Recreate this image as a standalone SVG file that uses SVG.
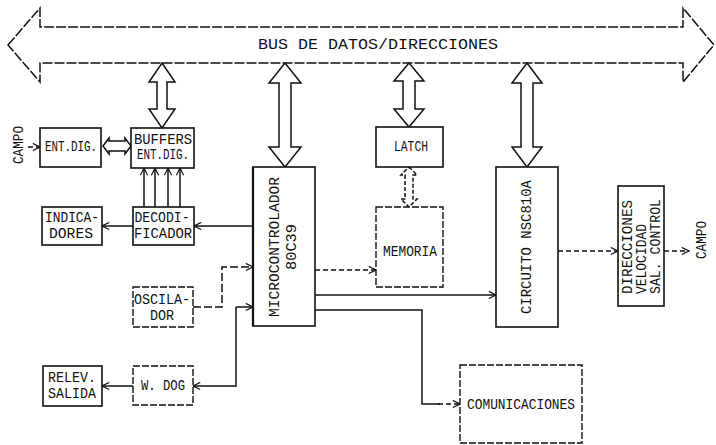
<svg xmlns="http://www.w3.org/2000/svg" width="716" height="445" viewBox="0 0 716 445">
<style>
  .bx{fill:#fff;stroke:#111;stroke-width:1.6}
  .bd{fill:#fff;stroke:#111;stroke-width:1.4;stroke-dasharray:7,2}
  .ha{fill:#fff;stroke:#111;stroke-width:1.5;stroke-linejoin:miter}
  .ln{fill:none;stroke:#111;stroke-width:1.5}
  .dl{fill:none;stroke:#111;stroke-width:1.3;stroke-dasharray:5,3}
  text{font-family:"Liberation Mono","DejaVu Sans Mono",monospace;font-size:14px;fill:#111;text-anchor:middle;dominant-baseline:central}
</style>
<defs>
  <marker id="ar" viewBox="0 0 10 10" refX="9" refY="5" markerWidth="9" markerHeight="9" markerUnits="userSpaceOnUse" orient="auto">
    <path d="M1,1 L9,5 L1,9" fill="none" stroke="#111" stroke-width="1.3"/>
  </marker>
</defs>

<g id="bus">
  <polygon class="ha" points="8,45 40,8 40,27 683,27 683,8 714,45 683,82 683,63 40,63 40,82" stroke-dasharray="10,2"/>
  <text x="378" y="45" font-size="15" textLength="240" lengthAdjust="spacingAndGlyphs">BUS DE DATOS/DIRECCIONES</text>
</g>

<g id="connectors">
  <polygon class="ha" points="162,63 175,82 167,82 167,109 175,109 162,128 149,109 157,109 157,82 149,82"/>
  <polygon class="ha" points="285,63 301,83 291,83 291,147 301,147 285,167 269,147 279,147 279,83 269,83"/>
  <polygon class="ha" points="409,63 424,81 415,81 415,109 424,109 409,127 394,109 403,109 403,81 394,81"/>
  <polygon class="ha" points="527,63 542,83 533,83 533,147 542,147 527,167 512,147 521,147 521,83 512,83"/>
  <polygon class="ha" points="409,167 417,175 413,175 413,199 417,199 409,207 401,199 405,199 405,175 401,175" stroke-dasharray="4,2"/>
  <polygon class="ha" points="103,146 109,138 109,141 125,141 125,138 131,146 125,154 125,151 109,151 109,154" stroke-width="1.3"/>
  <line class="dl" x1="28" y1="147" x2="40" y2="147" marker-end="url(#ar)"/>
  <line class="ln" x1="144" y1="207" x2="144" y2="168" marker-end="url(#ar)"/>
  <line class="ln" x1="155" y1="207" x2="155" y2="168" marker-end="url(#ar)"/>
  <line class="ln" x1="168" y1="207" x2="168" y2="168" marker-end="url(#ar)"/>
  <line class="ln" x1="180" y1="207" x2="180" y2="168" marker-end="url(#ar)"/>
  <line class="ln" x1="253" y1="226" x2="194" y2="226" marker-end="url(#ar)"/>
  <line class="ln" x1="133" y1="226" x2="102" y2="226" marker-end="url(#ar)"/>
  <polyline class="ln" points="193,307 222,307 222,267 253,267" stroke-dasharray="8,3" marker-end="url(#ar)"/>
  <polyline class="ln" points="236,307 253,307" marker-end="url(#ar)"/>
  <polyline class="ln" points="236,307 236,386 193,386" marker-end="url(#ar)"/>
  <line class="ln" x1="133" y1="386" x2="102" y2="386" marker-end="url(#ar)"/>
  <line class="dl" x1="315" y1="270" x2="376" y2="270" marker-end="url(#ar)"/>
  <line class="ln" x1="315" y1="295" x2="496" y2="295" marker-end="url(#ar)"/>
  <polyline class="ln" points="315,310 422,310 422,404 440,404"/>
  <line class="dl" x1="438" y1="404" x2="460" y2="404" marker-end="url(#ar)"/>
  <line class="dl" x1="558" y1="251" x2="618" y2="251" marker-end="url(#ar)"/>
  <line class="dl" x1="664" y1="251" x2="689" y2="251" marker-end="url(#ar)"/>
</g>

<g id="campo-left">
  <text transform="translate(19,145) rotate(-90)" font-size="14" textLength="38" lengthAdjust="spacingAndGlyphs">CAMPO</text>
</g>

<g id="ent-dig">
  <rect class="bx" x="40" y="128" width="61" height="39"/>
  <text x="71" y="147" textLength="52" lengthAdjust="spacingAndGlyphs">ENT.DIG.</text>
</g>

<g id="buffers">
  <rect class="bx" x="131" y="128" width="63" height="40"/>
  <text x="163" y="140" textLength="58" lengthAdjust="spacingAndGlyphs">BUFFERS</text>
  <text x="163" y="155" textLength="52" lengthAdjust="spacingAndGlyphs">ENT.DIG.</text>
</g>

<g id="indicadores">
  <rect class="bx" x="42" y="207" width="60" height="38"/>
  <text x="72" y="218" textLength="54" lengthAdjust="spacingAndGlyphs">INDICA-</text>
  <text x="71" y="234" textLength="44" lengthAdjust="spacingAndGlyphs">DORES</text>
</g>

<g id="decodificador">
  <rect class="bx" x="133" y="207" width="61" height="38"/>
  <text x="162" y="218" textLength="55" lengthAdjust="spacingAndGlyphs">DECODI-</text>
  <text x="163" y="234" textLength="58" lengthAdjust="spacingAndGlyphs">FICADOR</text>
</g>

<g id="oscilador">
  <rect class="bd" x="133" y="287" width="60" height="40"/>
  <text x="162" y="300" font-size="12" textLength="56" lengthAdjust="spacingAndGlyphs">OSCILA-</text>
  <text x="162" y="316" font-size="12" textLength="24" lengthAdjust="spacingAndGlyphs">DOR</text>
</g>

<g id="wdog">
  <rect class="bd" x="133" y="366" width="60" height="39"/>
  <text x="163" y="386" textLength="44" lengthAdjust="spacingAndGlyphs">W. DOG</text>
</g>

<g id="relev-salida">
  <rect class="bx" x="43" y="366" width="59" height="40"/>
  <text x="72" y="378" textLength="48" lengthAdjust="spacingAndGlyphs">RELEV.</text>
  <text x="72" y="394" textLength="48" lengthAdjust="spacingAndGlyphs">SALIDA</text>
</g>

<g id="microcontrolador">
  <rect class="bx" x="253" y="167" width="62" height="159"/>
  <line x1="253" y1="167" x2="253" y2="326" stroke="#111" stroke-width="2.2"/>
  <text transform="translate(275,247) rotate(-90)" font-size="14" textLength="140" lengthAdjust="spacingAndGlyphs">MICROCONTROLADOR</text>
  <text transform="translate(292,247) rotate(-90)" font-size="14" textLength="46" lengthAdjust="spacingAndGlyphs">80C39</text>
</g>

<g id="latch">
  <rect class="bx" x="376" y="127" width="67" height="40"/>
  <text x="411" y="147" textLength="34" lengthAdjust="spacingAndGlyphs">LATCH</text>
</g>

<g id="memoria">
  <rect class="bd" x="376" y="207" width="67" height="80"/>
  <text x="410" y="252" textLength="54" lengthAdjust="spacingAndGlyphs">MEMORIA</text>
</g>

<g id="circuito">
  <rect class="bx" x="496" y="167" width="62" height="160"/>
  <text transform="translate(527,247) rotate(-90)" font-size="14" textLength="134" lengthAdjust="spacingAndGlyphs">CIRCUITO NSC810A</text>
</g>

<g id="direcciones">
  <rect class="bx" x="618" y="186" width="46" height="120" stroke-width="1.8"/>
  <text transform="translate(628,294) rotate(-90)" style="text-anchor:start" font-size="13" textLength="94" lengthAdjust="spacingAndGlyphs">DIRECCIONES</text>
  <text transform="translate(642,294) rotate(-90)" style="text-anchor:start" font-size="13" textLength="70" lengthAdjust="spacingAndGlyphs">VELOCIDAD</text>
  <text transform="translate(656,294) rotate(-90)" style="text-anchor:start" font-size="13" textLength="95" lengthAdjust="spacingAndGlyphs">SAL. CONTROL</text>
</g>

<g id="campo-right">
  <text transform="translate(702,240) rotate(-90)" font-size="14" textLength="38" lengthAdjust="spacingAndGlyphs">CAMPO</text>
</g>

<g id="comunicaciones">
  <rect class="bd" x="460" y="365" width="122" height="78"/>
  <text x="521" y="405" textLength="108" lengthAdjust="spacingAndGlyphs">COMUNICACIONES</text>
</g>
</svg>
